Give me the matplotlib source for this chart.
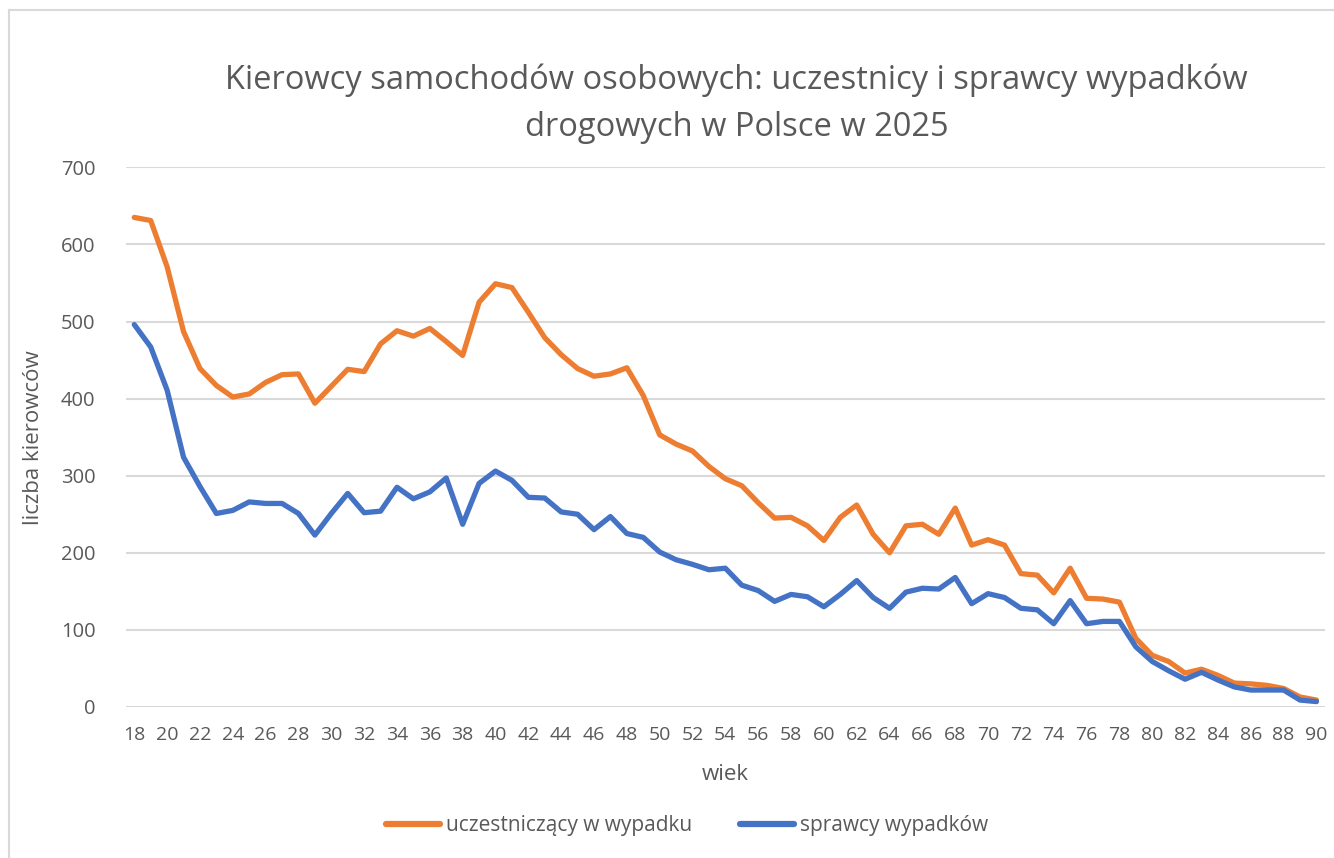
import matplotlib
matplotlib.use('Agg')
import matplotlib.pyplot as plt
from matplotlib.lines import Line2D

plt.rcParams['font.family'] = ['Open Sans', 'DejaVu Sans']

# --- data ---
ages = list(range(18, 91))

uczestniczacy = [
    635, 631, 571, 487, 439, 417, 402, 406, 421, 431,   # 18-27
    432, 394, 416, 438, 435, 471, 488, 481, 491, 474,   # 28-37
    456, 525, 549, 544, 512, 479, 457, 439, 429, 432,   # 38-47
    440, 404, 353, 341, 332, 312, 296, 287, 265, 245,   # 48-57
    246, 235, 216, 246, 262, 224, 200, 235, 237, 224,   # 58-67
    258, 210, 217, 210, 173, 171, 148, 180, 141, 140,   # 68-77
    136, 89, 67, 59, 44, 49, 41, 31, 30, 28,            # 78-87
    24, 13, 9,                                          # 88-90
]

sprawcy = [
    496, 467, 411, 324, 286, 251, 255, 266, 264, 264,   # 18-27
    251, 223, 251, 277, 252, 254, 285, 270, 279, 297,   # 28-37
    237, 290, 306, 294, 272, 271, 253, 250, 230, 247,   # 38-47
    225, 220, 201, 191, 185, 178, 180, 158, 151, 137,   # 48-57
    146, 143, 130, 146, 164, 142, 128, 149, 154, 153,   # 58-67
    168, 134, 147, 142, 128, 126, 108, 138, 108, 111,   # 68-77
    111, 78, 59, 47, 36, 45, 35, 26, 22, 22,            # 78-87
    22, 9, 7,                                           # 88-90
]

x_ticks = list(range(18, 91, 2))
y_ticks = [0, 100, 200, 300, 400, 500, 600, 700]

ORANGE = '#ED7D31'
BLUE = '#4472C4'
TEXT = '#595959'
GRID = '#D9D9D9'

fig = plt.figure(figsize=(13.34, 8.58), dpi=100)
ax = fig.add_axes([0.0945, 0.176, 0.8985, 0.629])

ax.plot(ages, uczestniczacy, color=ORANGE, lw=3.8, solid_joinstyle='round',
        solid_capstyle='round', label='uczestniczący w wypadku', zorder=3)
ax.plot(ages, sprawcy, color=BLUE, lw=3.8, solid_joinstyle='round',
        solid_capstyle='round', label='sprawcy wypadków', zorder=4)

ax.set_xlim(17.5, 90.5)
ax.set_ylim(0, 700)
ax.set_xticks(x_ticks)
ax.set_yticks(y_ticks)
ax.yaxis.grid(True, color=GRID, lw=1.5)
ax.set_axisbelow(True)
for s in ax.spines.values():
    s.set_visible(False)
ax.tick_params(axis='both', length=0, labelsize=14, labelcolor=TEXT)
ax.tick_params(axis='x', pad=14)
ax.tick_params(axis='y', labelsize=14.5, pad=22)

ax.set_xlabel('wiek', fontsize=16, color=TEXT, labelpad=14)
ax.set_ylabel('liczba kierowców', fontsize=16, color=TEXT, labelpad=12)

fig.text(0.552, 0.879, 'Kierowcy samochodów osobowych: uczestnicy i sprawcy wypadków\ndrogowych w Polsce w 2025',
         ha='center', va='center', fontsize=23.5, color=TEXT, linespacing=1.55)

leg = fig.legend(loc='center', bbox_to_anchor=(0.515, 0.038), ncol=2, frameon=False,
                 fontsize=15, handlelength=2.6, handletextpad=0.3, columnspacing=2.3)
for t in leg.get_texts():
    t.set_color(TEXT)
for h in leg.legend_handles:
    h.set_linewidth(4.5)

# chart area border
fig.add_artist(Line2D([0.0068, 0.0068], [0, 0.988], transform=fig.transFigure, color=GRID, lw=1.5))
fig.add_artist(Line2D([0.0068, 1], [0.988, 0.988], transform=fig.transFigure, color=GRID, lw=1.5))

fig.savefig('out.png', dpi=100, facecolor='white')
